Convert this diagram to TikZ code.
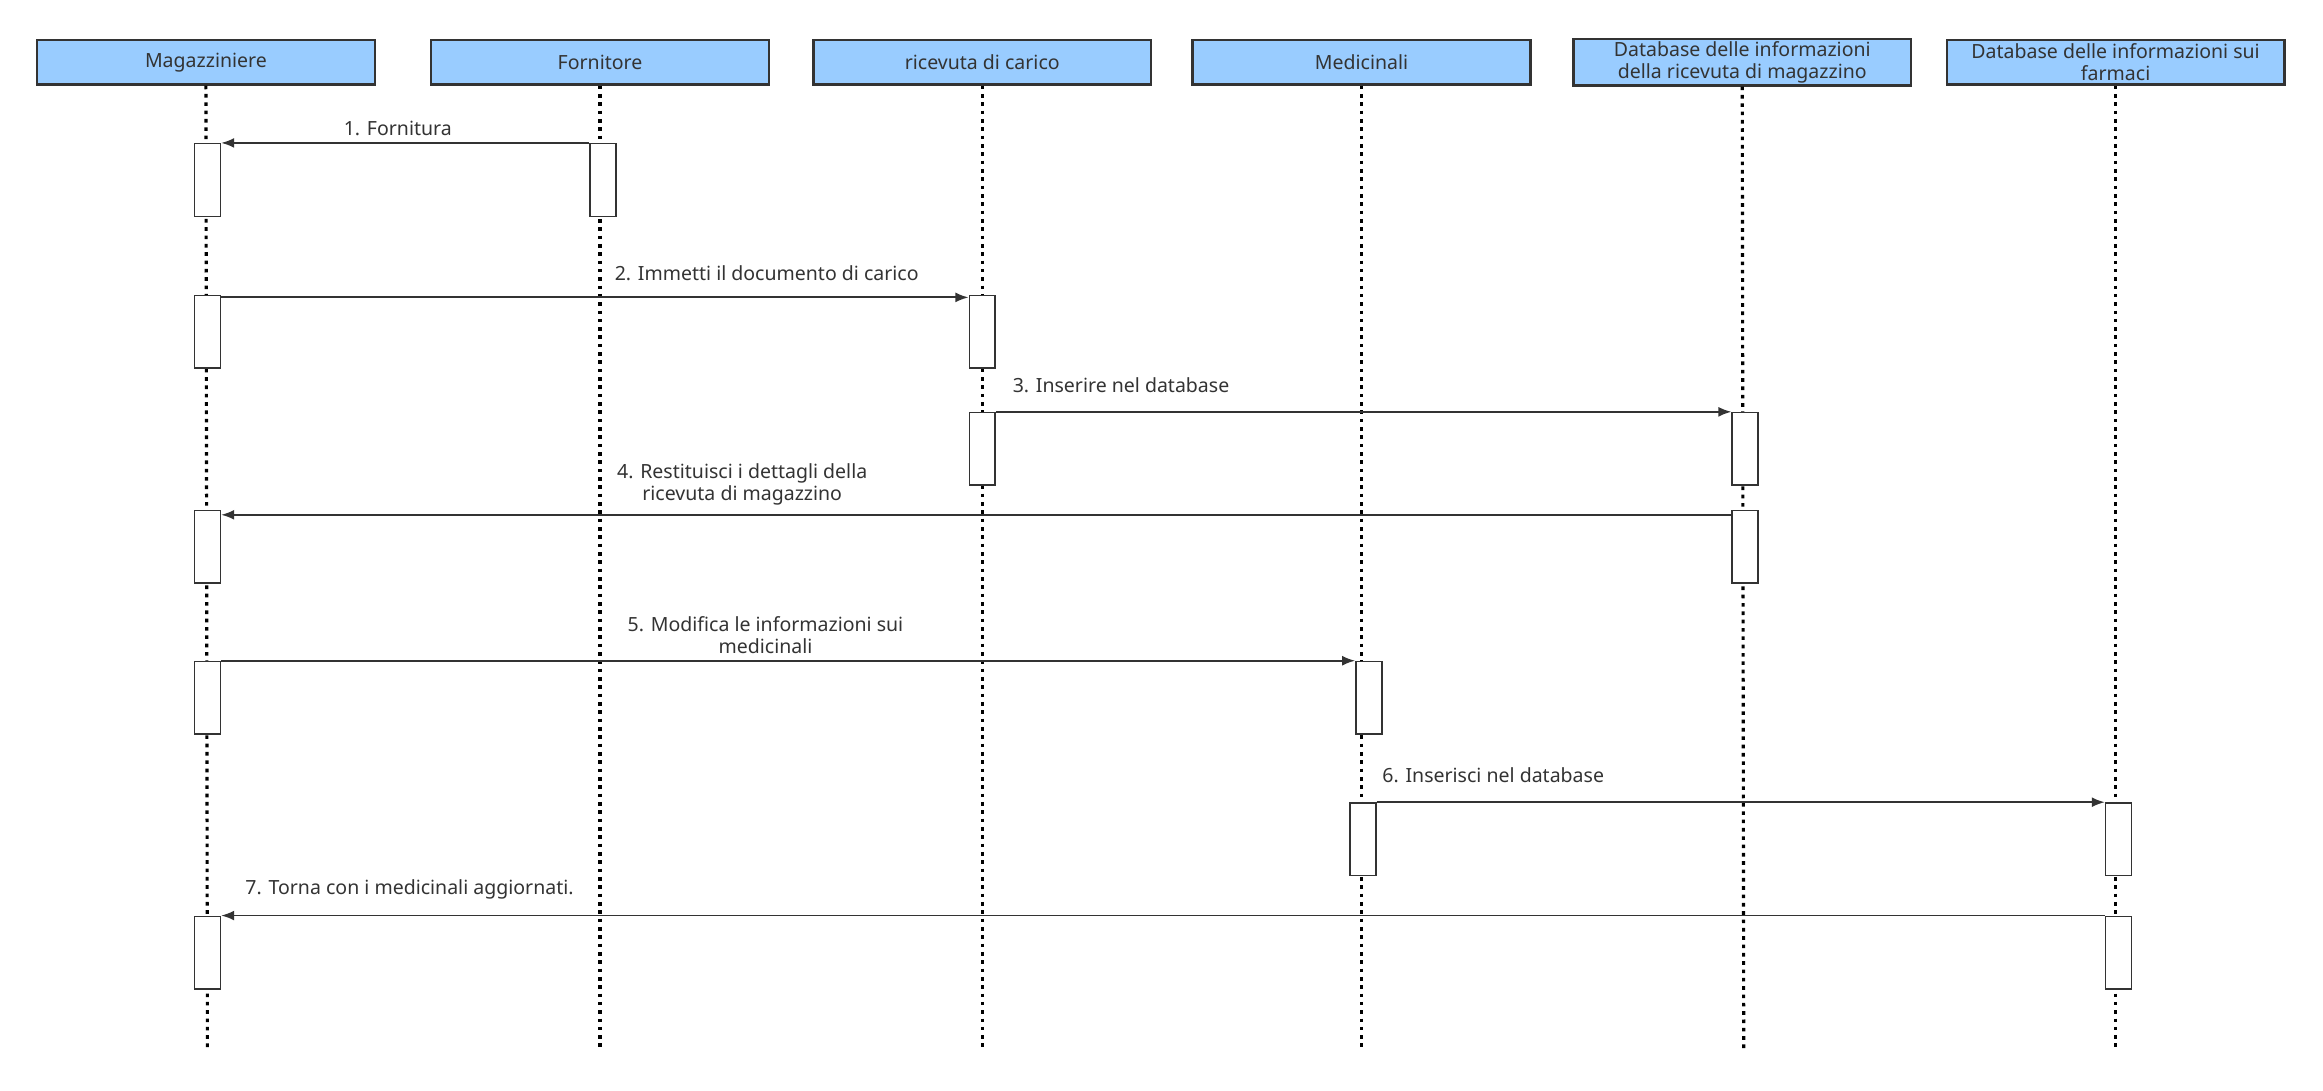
\documentclass[tikz,border=0pt]{standalone}
\usepackage{fontspec}
\setmainfont{Noto Sans}
\usetikzlibrary{positioning,arrows.meta}
\definecolor{headblue}{HTML}{99CCFF}
\definecolor{inkgray}{HTML}{333333}
\newcommand{\seqfont}{\fontsize{7.5}{8.3}\selectfont}

\begin{document}
\begin{tikzpicture}[x=0.02cm, y=-0.02cm,
        head/.style={draw=inkgray, fill=headblue, line width=0.9pt, minimum width=4.56cm, minimum height=0.6cm, inner sep=1pt, align=center, font=\seqfont, text=inkgray},
        act/.style={draw=inkgray, fill=white, line width=0.6pt, minimum width=0.35cm, minimum height=0.98cm, inner sep=0pt},
        life/.style={line width=1.2pt, dash pattern=on 1.4pt off 1.8pt},
        msg/.style={draw=inkgray, line width=0.7pt, -{Latex[length=5pt, width=3.8pt]}},
        lbl/.style={font=\seqfont, text=inkgray, align=center, above, inner sep=2.5pt}]
      \useasboundingbox (0,0) rectangle (1568,736);
      % lifeline heads
      \node[head] (mag) at (139,42) {Magazziniere};
      \node[head] (forn) at (405,42) {Fornitore};
      \node[head] (ric) at (663,42) {ricevuta di carico};
      \node[head] (med) at (919,42) {Medicinali};
      \node[head] (dbr) at (1176,42) {Database delle informazioni\\della ricevuta di magazzino};
      \node[head] (dbf) at (1428,42) {Database delle informazioni sui\\farmaci};
      \foreach \n/\x in {mag/140, forn/405, ric/663, med/919, dbr/1177, dbf/1428} {
        \coordinate (\n-end) at (\x,708);
        \draw[life] (\n.south) -- (\n-end);
      }
      % activations
      \node[act] (m1) at (140,121.5) {};
      \node[act] (f1) at (407,121.5) {};
      \node[act] (m2) at (140,224) {};
      \node[act] (r2) at (663,224) {};
      \node[act] (r3) at (663,303) {};
      \node[act] (d3) at (1178,303) {};
      \node[act] (m4) at (140,369) {};
      \node[act] (d4) at (1178,369) {};
      \node[act] (m5) at (140,471) {};
      \node[act] (e5) at (924,471) {};
      \node[act] (e6) at (920,566.5) {};
      \node[act] (b6) at (1430,566.5) {};
      \node[act] (m7) at (140,643) {};
      \node[act] (b7) at (1430,643) {};
      % messages
      \draw[msg] (f1.north west) -- node[lbl, pos=0.52] {1. Fornitura} (m1.north east);
      \draw[msg] ([yshift=-1pt]m2.north east) -- node[lbl, pos=0.73, yshift=3.4pt] {2. Immetti il documento di carico} ([yshift=-1pt]r2.north west);
      \draw[msg] (r3.north east) -- node[lbl, pos=0.17, yshift=4.5pt] {3. Inserire nel database} (d3.north west);
      \draw[msg] ([yshift=-2pt]d4.north west) -- node[lbl, pos=0.655, yshift=1pt] {4. Restituisci i dettagli della\\ricevuta di magazzino} ([yshift=-2pt]m4.north east);
      \draw[msg] (m5.north east) -- node[lbl, pos=0.48] {5. Modifica le informazioni sui\\medicinali} (e5.north west);
      \draw[msg] (e6.north east) -- node[lbl, pos=0.16, yshift=4.5pt] {6. Inserisci nel database} (b6.north west);
      \draw[msg] (b7.north west) -- node[lbl, pos=0.9, yshift=3.4pt] {7. Torna con i medicinali aggiornati.} (m7.north east);
\end{tikzpicture}
\end{document}
